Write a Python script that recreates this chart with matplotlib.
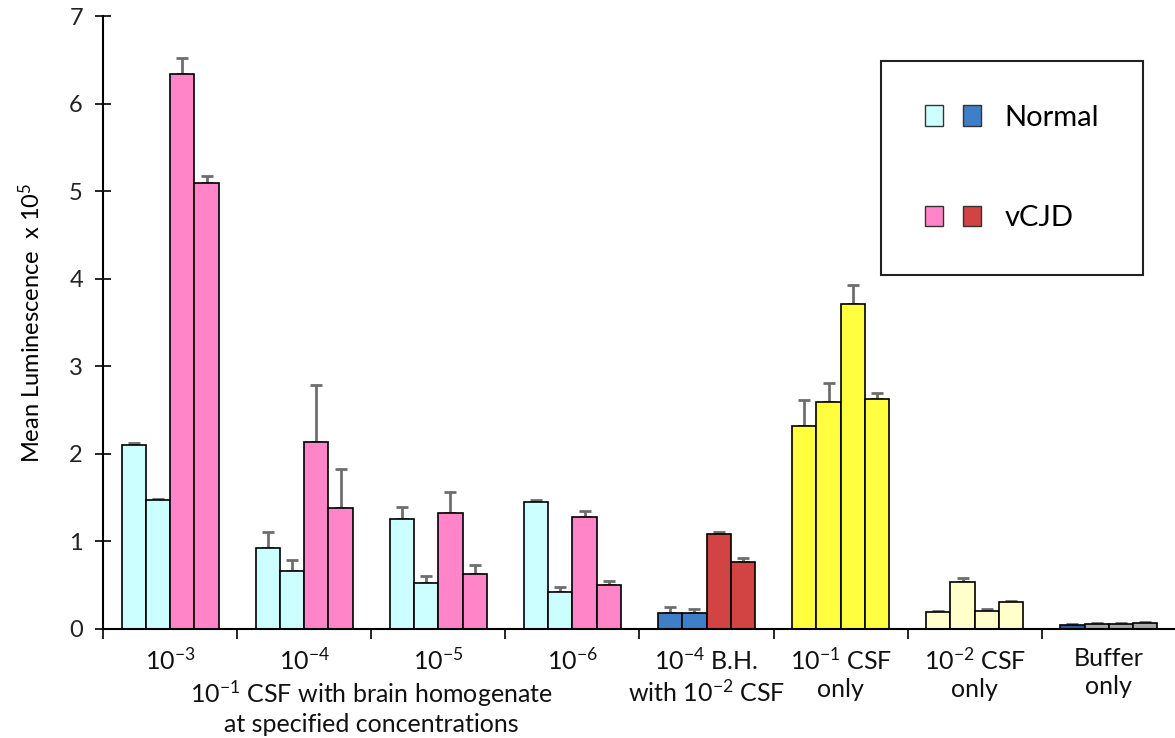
import numpy as np
import matplotlib
matplotlib.use("Agg")
from matplotlib import pyplot as plt
from matplotlib.patches import Patch
from matplotlib.legend_handler import HandlerTuple

plt.rcParams['font.family'] = ['Lato', 'DejaVu Sans']
plt.rcParams['mathtext.fontset'] = 'custom'
plt.rcParams['mathtext.rm'] = 'Lato'
plt.rcParams['mathtext.default'] = 'regular'

# group labels under the x axis
group_labels = ["10$^{-3}$", "10$^{-4}$", "10$^{-5}$", "10$^{-6}$",
                "10$^{-4}$ B.H.\nwith 10$^{-2}$ CSF", "10$^{-1}$ CSF\nonly",
                "10$^{-2}$ CSF\nonly", "Buffer\nonly"]

# four bars per group (two normal, two vCJD), mean luminescence x 10^5
bar_a = [2.10, 0.92, 1.26, 1.45, 0.18, 2.32, 0.19, 0.05]
bar_b = [1.47, 0.66, 0.53, 0.42, 0.18, 2.59, 0.54, 0.06]
bar_c = [6.34, 2.14, 1.33, 1.28, 1.08, 3.71, 0.21, 0.06]
bar_d = [5.09, 1.38, 0.63, 0.50, 0.77, 2.63, 0.31, 0.07]

# upper error (SEM)
err_a = [0.02, 0.19, 0.13, 0.02, 0.07, 0.30, 0.02, 0.01]
err_b = [0.01, 0.13, 0.07, 0.06, 0.05, 0.22, 0.04, 0.01]
err_c = [0.18, 0.65, 0.23, 0.07, 0.03, 0.22, 0.02, 0.01]
err_d = [0.08, 0.45, 0.10, 0.05, 0.04, 0.07, 0.015, 0.01]

cyan, pink = '#ccffff', '#ff85c8'
blue, red = '#3e7fc8', '#d24343'
yellow, pale = '#ffff40', '#ffffcc'
navy, grey = '#2f5f99', '#a8a8a8'
bar_colors = [
    [cyan, cyan, pink, pink],
    [cyan, cyan, pink, pink],
    [cyan, cyan, pink, pink],
    [cyan, cyan, pink, pink],
    [blue, blue, red, red],
    [yellow, yellow, yellow, yellow],
    [pale, pale, pale, pale],
    [navy, grey, grey, grey],
]

fig = plt.figure(figsize=(11.75, 7.38), dpi=100)
ax = fig.add_axes([0.0877, 0.1477, 0.9131, 0.8306])

x = np.arange(len(group_labels)) + 0.5
w = 0.181
series = [bar_a, bar_b, bar_c, bar_d]
errors = [err_a, err_b, err_c, err_d]
for k, (vals, err) in enumerate(zip(series, errors)):
    pos = x + (k - 1.5) * w
    cols = [bar_colors[g][k] for g in range(len(group_labels))]
    ax.bar(pos, vals, width=w, color=cols, edgecolor='black', linewidth=1.2, zorder=2)
    ax.errorbar(pos, vals, yerr=[np.zeros(len(vals)), err], fmt='none',
                ecolor='#6e6e6e', elinewidth=2, capsize=4.5, capthick=2, zorder=1)

ax.set_xlim(0, 8)
ax.set_ylim(0, 7)
ax.set_yticks(range(8))
ax.tick_params(axis='y', direction='inout', length=11, width=1.2, pad=9,
               labelsize=17, labelcolor='#222222')

# boundary ticks between groups, labels at group centres
ax.set_xticks(range(9))
ax.set_xticklabels([])
ax.tick_params(axis='x', which='major', direction='out', length=7, width=1.2)
ax.set_xticks(x, minor=True)
ax.set_xticklabels(group_labels, minor=True, fontsize=18, linespacing=1.25)
ax.tick_params(axis='x', which='minor', length=0, pad=13, labelcolor='#111111')

ax.text(2.0, -0.08, "10$^{-1}$ CSF with brain homogenate\nat specified concentrations",
        transform=ax.get_xaxis_transform(), ha='center', va='top', fontsize=18,
        linespacing=1.25, color='#111111')

ax.set_ylabel("Mean Luminescence  x 10$^{5}$", fontsize=17, labelpad=18)

for side in ['top', 'right']:
    ax.spines[side].set_visible(False)
ax.spines['left'].set_linewidth(1.5)
ax.spines['bottom'].set_linewidth(1.5)

handles = [(Patch(facecolor=cyan, edgecolor='#333333'), Patch(facecolor=blue, edgecolor='#333333')),
           (Patch(facecolor=pink, edgecolor='#333333'), Patch(facecolor=red, edgecolor='#333333'))]
leg = ax.legend(handles, ['Normal', 'vCJD'], handler_map={tuple: HandlerTuple(ndivide=None, pad=0.7)},
                loc='upper right', bbox_to_anchor=(0.9728, 0.9173), bbox_transform=fig.transFigure,
                borderaxespad=0, prop={'size': 21},
                handlelength=1.95, handleheight=0.7, handletextpad=0.8,
                labelspacing=2.55, borderpad=1.5, fancybox=False, framealpha=1)
leg.get_frame().set_edgecolor('#222222')
leg.get_frame().set_linewidth(1.5)

fig.savefig('out.png', dpi=100)
